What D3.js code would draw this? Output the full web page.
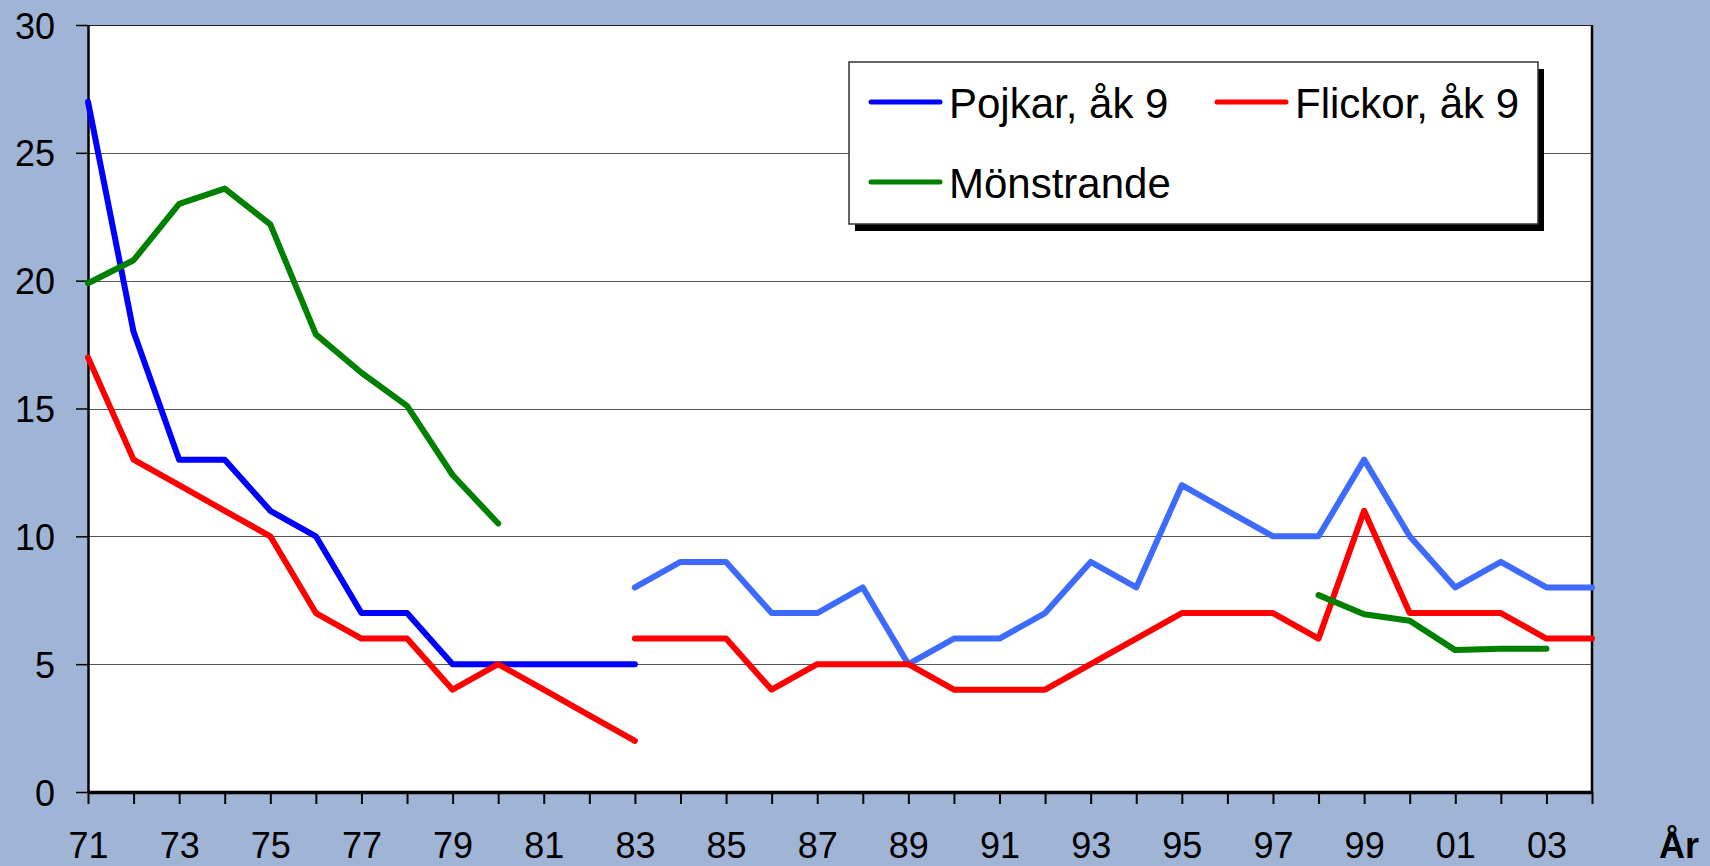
<!DOCTYPE html>
<html>
<head>
<meta charset="utf-8">
<script src="https://cdn.jsdelivr.net/npm/d3@7"></script>
<style>
  html, body { margin: 0; padding: 0; background: #a0b4d5; }
  svg { display: block; font-family: "Liberation Sans", Arial, sans-serif; }
</style>
</head>
<body>
<svg id="chart" width="1710" height="866"></svg>
<script>
// Andel (%) per år, två mätperioder per serie
const yearsEarly = [1971, 1972, 1973, 1974, 1975, 1976, 1977, 1978, 1979, 1980, 1981, 1982, 1983];
const yearsLate = [1983, 1984, 1985, 1986, 1987, 1988, 1989, 1990, 1991, 1992, 1993, 1994, 1995,
                   1996, 1997, 1998, 1999, 2000, 2001, 2002, 2003, 2004];
const pojkarEarly = [27, 18, 13, 13, 11, 10, 7, 7, 5, 5, 5, 5, 5];
const pojkarLate = [8, 9, 9, 7, 7, 8, 5, 6, 6, 7, 9, 8, 12, 11, 10, 10, 13, 10, 8, 9, 8, 8];
const flickorEarly = [17, 13, 12, 11, 10, 7, 6, 6, 4, 5, 4, 3, 2];
const flickorLate = [6, 6, 6, 4, 5, 5, 5, 4, 4, 4, 5, 6, 7, 7, 7, 6, 11, 7, 7, 7, 6, 6];
const monstrandeYearsEarly = [1971, 1972, 1973, 1974, 1975, 1976, 1977, 1978, 1979, 1980];
const monstrandeEarly = [19.9, 20.8, 23.0, 23.6, 22.2, 17.9, 16.4, 15.1, 12.4, 10.5];
const monstrandeYearsLate = [1998, 1999, 2000, 2001, 2002, 2003];
const monstrandeLate = [7.7, 6.95, 6.7, 5.55, 5.6, 5.6];

const yTicks = [0, 5, 10, 15, 20, 25, 30];
const xTicks = [1971, 1972, 1973, 1974, 1975, 1976, 1977, 1978, 1979, 1980, 1981, 1982, 1983,
                1984, 1985, 1986, 1987, 1988, 1989, 1990, 1991, 1992, 1993, 1994, 1995, 1996,
                1997, 1998, 1999, 2000, 2001, 2002, 2003, 2004];
const xLabelled = [1971, 1973, 1975, 1977, 1979, 1981, 1983, 1985, 1987, 1989, 1991, 1993,
                   1995, 1997, 1999, 2001, 2003];

const legendItems = [
  { label: "Pojkar, åk 9", color: "#0000ff", col: 0, row: 0 },
  { label: "Flickor, åk 9", color: "#ff0000", col: 1, row: 0 },
  { label: "Mönstrande", color: "#008000", col: 0, row: 1 }
];

const seriesSegments = [
  { years: yearsEarly, values: pojkarEarly, color: "#0000ff" },
  { years: yearsLate, values: pojkarLate, color: "#3d6bff" },
  { years: yearsEarly, values: flickorEarly, color: "#ff0000" },
  { years: yearsLate, values: flickorLate, color: "#ff0000" },
  { years: monstrandeYearsEarly, values: monstrandeEarly, color: "#008000" },
  { years: monstrandeYearsLate, values: monstrandeLate, color: "#008000" }
];

const svg = d3.select("#chart");
const plot = { left: 88, right: 1592, top: 25, bottom: 792 };

const x = d3.scaleLinear().domain([1971, 2004]).range([plot.left, plot.right]);
const y = d3.scaleLinear().domain([0, 30]).range([plot.bottom, plot.top]);

// plot area
svg.append("rect")
  .attr("x", plot.left).attr("y", plot.top)
  .attr("width", plot.right - plot.left).attr("height", plot.bottom - plot.top)
  .attr("fill", "#ffffff");

// horizontal gridlines
svg.append("g")
  .selectAll("line")
  .data(yTicks.filter(v => v > 0))
  .join("line")
  .attr("x1", plot.left).attr("x2", plot.right)
  .attr("y1", d => Math.round(y(d)) + 0.5).attr("y2", d => Math.round(y(d)) + 0.5)
  .attr("stroke", d => d === 30 ? "#222" : "#555")
  .attr("stroke-width", 1);

// right frame
svg.append("line")
  .attr("x1", plot.right).attr("x2", plot.right)
  .attr("y1", plot.top).attr("y2", plot.bottom)
  .attr("stroke", "#000").attr("stroke-width", 2.5);

// y axis
const yAxis = svg.append("g")
  .attr("transform", `translate(${plot.left},0)`)
  .call(d3.axisLeft(y).tickValues(yTicks).tickSize(12).tickSizeOuter(0).tickPadding(21));
yAxis.select(".domain").attr("stroke", "#000").attr("stroke-width", 2.5);
yAxis.selectAll(".tick line").attr("stroke", "#000").attr("stroke-width", 1.5);
yAxis.selectAll(".tick text")
  .attr("font-size", 36)
  .attr("font-family", "Liberation Sans, Arial, sans-serif")
  .attr("fill", "#000")
  .attr("dy", 13);

// x axis
const xAxis = svg.append("g")
  .attr("transform", `translate(0,${plot.bottom})`)
  .call(d3.axisBottom(x)
    .tickValues(xTicks)
    .tickSize(12)
    .tickSizeOuter(0)
    .tickFormat(d => xLabelled.includes(d) ? String(d % 100).padStart(2, "0") : ""));
xAxis.select(".domain").attr("stroke", "#000").attr("stroke-width", 3.5);
xAxis.selectAll(".tick line").attr("stroke", "#000").attr("stroke-width", 2);
xAxis.selectAll(".tick text")
  .attr("font-size", 36)
  .attr("font-family", "Liberation Sans, Arial, sans-serif")
  .attr("fill", "#000")
  .attr("y", 66)
  .attr("dy", 0);

svg.append("text")
  .attr("x", 1679).attr("y", 858)
  .attr("text-anchor", "middle")
  .attr("font-size", 36)
  .attr("font-weight", "bold")
  .attr("fill", "#000")
  .text("År");

// series lines
const line = d3.line()
  .x(d => x(d[0]))
  .y(d => y(d[1]));

svg.append("g")
  .selectAll("path")
  .data(seriesSegments)
  .join("path")
  .attr("d", s => line(s.years.map((yr, i) => [yr, s.values[i]])))
  .attr("fill", "none")
  .attr("stroke", s => s.color)
  .attr("stroke-width", 6)
  .attr("stroke-linecap", "round")
  .attr("stroke-linejoin", "round");

// legend
const legend = { x: 849, y: 62, w: 689, h: 162, rowGap: 80, colGap: 346 };
const lg = svg.append("g");
lg.append("rect")
  .attr("x", legend.x + 6).attr("y", legend.y + 7)
  .attr("width", legend.w).attr("height", legend.h)
  .attr("fill", "#000");
lg.append("rect")
  .attr("x", legend.x).attr("y", legend.y)
  .attr("width", legend.w).attr("height", legend.h)
  .attr("fill", "#fff").attr("stroke", "#333").attr("stroke-width", 1.5);

const items = lg.selectAll("g.item")
  .data(legendItems)
  .join("g")
  .attr("class", "item")
  .attr("transform", d => `translate(${legend.x + d.col * legend.colGap},${legend.y + d.row * legend.rowGap})`);
items.append("line")
  .attr("x1", 22).attr("x2", 91)
  .attr("y1", 40).attr("y2", 40)
  .attr("stroke", d => d.color)
  .attr("stroke-width", 5)
  .attr("stroke-linecap", "round");
items.append("text")
  .attr("x", 100).attr("y", 56)
  .attr("font-size", 42)
  .attr("fill", "#000")
  .text(d => d.label);
</script>
</body>
</html>
